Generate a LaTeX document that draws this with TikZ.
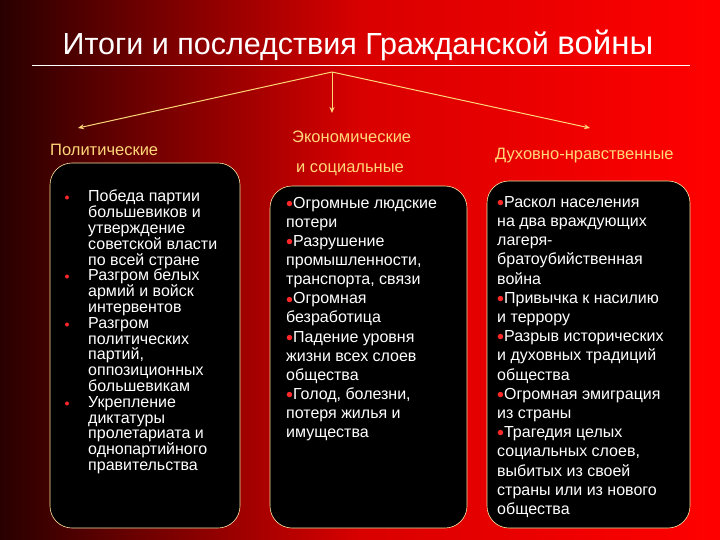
\documentclass[tikz,border=0pt]{standalone}
\usepackage{fontspec}
\setmainfont{Liberation Sans}
\usetikzlibrary{arrows.meta}
\definecolor{hd}{RGB}{255,215,120}
\definecolor{bred}{RGB}{255,40,40}
\newcommand{\bl}{\textcolor{bred}{\raisebox{0.1ex}{\scalebox{0.8}{$\bullet$}}}}
\begin{document}
\begin{tikzpicture}[x=1pt,y=-1pt,
  box/.style={draw=hd!70,line width=0.6pt,fill=black,rounded corners=22pt},
  head/.style={text=hd,font=\fontsize{16.5}{18}\selectfont,anchor=west,inner sep=0pt},
  arr/.style={draw=hd,line width=1pt,-{Stealth[length=6pt,width=5pt]}},
  txt/.style={text=white,anchor=north west,align=left,inner sep=0pt}]
\shade[left color=black!60!red!40!black,right color=red,middle color=red!85!black] (0,0) rectangle (720,540);
\useasboundingbox (0,0) rectangle (720,540);
\node (title) at (358,45) {\color{white}\fontsize{30.5}{30}\selectfont Итоги и последствия Гражданской \fontsize{33}{30}\selectfont войны};
\draw[white,line width=0.6pt] (32,65) -- (690,65);
\coordinate (o) at (332,72);
\coordinate (e1) at (78,128);
\coordinate (e2) at (332,113);
\coordinate (e3) at (590,128);
\draw[arr] (o) -- (e1);
\draw[arr] (o) -- (e2);
\draw[arr] (o) -- (e3);
\node[head] (h1) at (50,150) {Политические};
\node[head] (h2) at (292,137) {Экономические};
\node[head] (h2b) at (296,170) {и социальные};
\node[head] (h3) at (495,156) {Духовно-нравственные};
\draw[box] (50,163) rectangle (240,528);
\draw[box] (270,186) rectangle (467,528);
\draw[box] (487,181) rectangle (690,528);
\node[txt,font=\fontsize{16}{15.8}\selectfont] (t1) at (88,190) {Победа партии\\большевиков и\\утверждение\\советской власти\\по всей стране\\Разгром белых\\армий и войск\\интервентов\\Разгром\\политических\\партий,\\оппозиционных\\большевикам\\Укрепление\\диктатуры\\пролетариата и\\однопартийного\\правительства};
\foreach \yy in {198,277,325,404}{\node[text=bred,font=\normalsize] at (67,\yy) {$\bullet$};}
\node[txt,font=\fontsize{16}{19.1}\selectfont] (t2) at (286,197) {\bl Огромные людские\\потери\\\bl Разрушение\\промышленности,\\транспорта, связи\\\bl Огромная\\безработица\\\bl Падение уровня\\жизни всех слоев\\общества\\\bl Голод, болезни,\\потеря жилья и\\имущества};
\node[txt,font=\fontsize{16}{19.2}\selectfont] (t3) at (497,196) {\bl Раскол населения\\на два враждующих\\лагеря-\\братоубийственная\\война\\\bl Привычка к насилию\\и террору\\\bl Разрыв исторических\\и духовных традиций\\общества\\\bl Огромная эмиграция\\из страны\\\bl Трагедия целых\\социальных слоев,\\выбитых из своей\\страны или из нового\\общества};
\end{tikzpicture}
\end{document}
